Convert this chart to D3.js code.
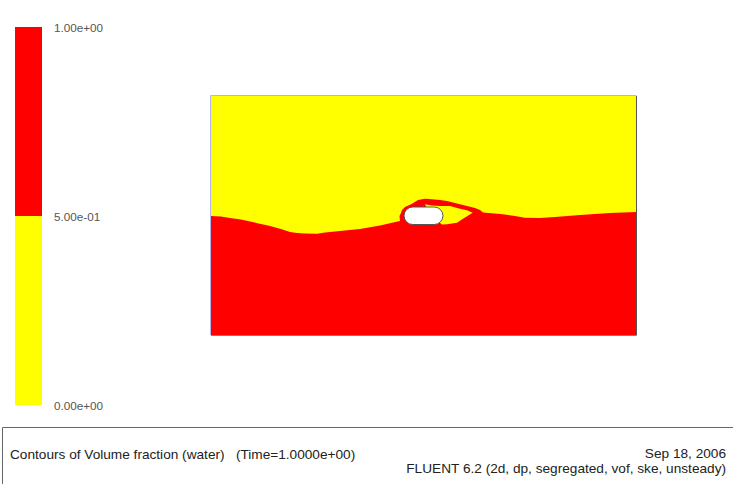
<!DOCTYPE html>
<html><head><meta charset="utf-8">
<script src="https://cdn.jsdelivr.net/npm/d3@7"></script>
<style>html,body{margin:0;background:#fff}svg{display:block}text{font-family:"Liberation Sans",Arial,sans-serif}</style>
</head><body><svg id="c" width="733" height="484"></svg>
<script>
// Legend
const legendLevels=[[0,0.5,"#ffff00"],[0.5,1,"#ff0000"]];
const legendTicks=[0,0.5,1];
const legendLabels=["0.00e+00","5.00e-01","1.00e+00"];
// Domain: x 0..42.5, y 0..23.9 (plot units)
const waterSurface=[[0,11.9],[1,11.85],[1.9,11.7],[3,11.55],[3.9,11.35],[5,11.1],[5.9,10.9],[7,10.6],[7.9,10.3],[8.6,10.2],[9.4,10.15],[10.6,10.13],[11.4,10.25],[12.9,10.4],[14.9,10.6],[16.9,10.95],[18,11.2],[18.9,11.4],[18.85,11.9],[19,12.2],[19.1,12.5],[19.4,12.8],[20.1,13.13],[20.7,13.5],[21.4,13.63],[22.1,13.57],[22.9,13.5],[23.6,13.4],[25.2,13.0],[26.4,12.7],[26.9,12.5],[27.2,12.25],[28.9,12.1],[29.4,12.05],[30.4,11.9],[31.4,11.72],[32.9,11.7],[34.4,11.8],[36.9,12],[39.9,12.2],[42.5,12.3]];
const airPocket=[[21.4,13.07],[22.1,12.95],[22.9,12.9],[23.9,12.9],[24.9,12.63],[25.6,12.47],[26.17,12.23],[25.2,11.63],[24.6,11.23],[23.6,11.07],[23.1,11.05],[21.9,12.0]];
const body={x0:19.3,x1:23.2,y0:11.05,y1:12.8};
const bodyTips={x:21.25,y0:10.9,y1:13.0};
const footerLeft="Contours of Volume fraction (water)   (Time=1.0000e+00)";
const footerRight=["Sep 18, 2006","FLUENT 6.2 (2d, dp, segregated, vof, ske, unsteady)"];

const svg=d3.select("#c");
const xs=d3.scaleLinear().domain([0,42.5]).range([211,636]);
const ys=d3.scaleLinear().domain([0,23.9]).range([335,96]);
const ls=d3.scaleLinear().domain([0,1]).range([405,27]);
const line=d3.line().x(d=>xs(d[0])).y(d=>ys(d[1]));

// legend bar
svg.append("g").selectAll("rect").data(legendLevels).join("rect")
 .attr("x",15).attr("width",27)
 .attr("y",d=>ls(d[1])).attr("height",d=>ls(d[0])-ls(d[1])).attr("fill",d=>d[2]);
const ax=svg.append("g").attr("transform","translate(47,1)")
 .call(d3.axisRight(ls).tickValues(legendTicks).tickSize(0).tickPadding(7).tickFormat((d,i)=>legendLabels[i]));
ax.select(".domain").remove();
ax.selectAll("text").attr("font-size",11.7).attr("fill","#555").style("font-family",'"Liberation Sans",Arial,sans-serif');

// plot
svg.append("rect").attr("x",xs(0)).attr("y",ys(23.9)).attr("width",xs(42.5)-xs(0)).attr("height",ys(0)-ys(23.9)).attr("fill","#ffff00");
const surf=[[0,0],...waterSurface,[42.5,0]];
svg.append("path").attr("d",line(surf)+"Z").attr("fill","#ff0000");
svg.append("path").attr("d",line(airPocket)+"Z").attr("fill","#ffff00");
// frame
svg.append("path").attr("d",`M${xs(0)-.5},${ys(0)}V${ys(23.9)-.5}H${xs(42.5)+.5}`).attr("fill","none").attr("stroke","#b4b4ec");
svg.append("path").attr("d",`M${xs(42.5)+.5},${ys(23.9)}V${ys(0)+.5}`).attr("fill","none").attr("stroke","#555");
svg.append("path").attr("d",`M${xs(0)},${ys(0)+.5}H${xs(42.5)}`).attr("fill","none").attr("stroke","#b060a8");

// body
svg.append("line").attr("x1",xs(bodyTips.x)).attr("x2",xs(bodyTips.x)).attr("y1",ys(bodyTips.y0)).attr("y2",ys(bodyTips.y1)).attr("stroke","#555");
const bh=ys(body.y0)-ys(body.y1);
svg.append("rect").attr("x",xs(body.x0)).attr("y",ys(body.y1)).attr("width",xs(body.x1)-xs(body.x0)).attr("height",bh).attr("rx",bh/2).attr("ry",bh/2)
 .attr("fill","#fff").attr("stroke","#555").attr("stroke-width",1);

// footer
svg.append("path").attr("d","M2.5,484V427.5H733").attr("fill","none").attr("stroke","#666");
svg.append("text").attr("x",10).attr("y",459).attr("font-size",13.65).attr("fill","#222").attr("xml:space","preserve").style("white-space","pre").text(footerLeft);
svg.selectAll(".fr").data(footerRight).join("text").attr("class","fr").attr("x",726).attr("y",(d,i)=>458+i*15).attr("text-anchor","end").attr("font-size",13.65).attr("fill","#222").text(d=>d);
</script></body></html>
